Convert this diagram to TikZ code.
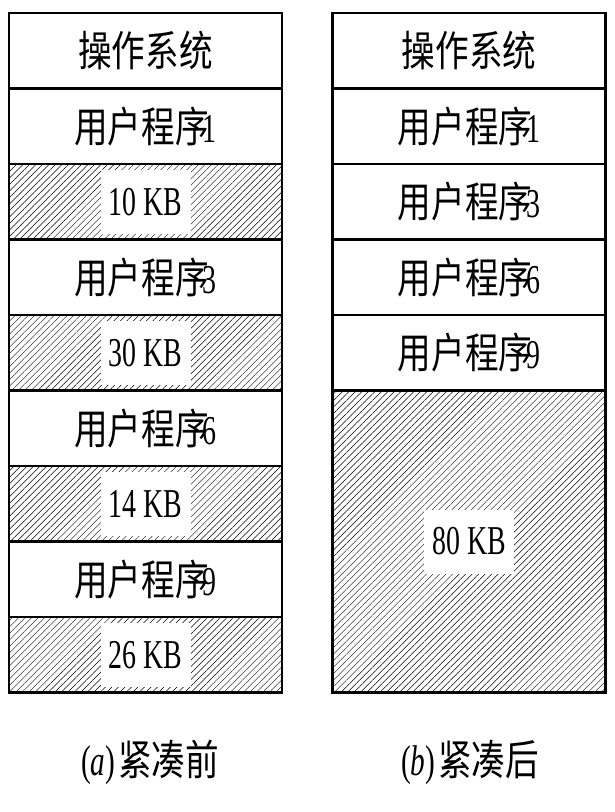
\documentclass[tikz,border=0pt]{standalone}
\usepackage{fontspec}
\setmainfont{Liberation Serif}[FakeStretch=0.68]
\newfontfamily\cjk{Noto Sans CJK SC}[FakeStretch=0.8]
\usepackage{tikz}
\usetikzlibrary{positioning,patterns.meta}
\tikzstyle{mem} = [draw, line width=2.6pt, outer sep=0pt, inner sep=0pt, minimum width=273pt, minimum height=75.5pt, font=\fontsize{42}{44}\selectfont\cjk]
\tikzstyle{free} = [mem, pattern={Lines[angle=45,distance=4.6pt,line width=0.45pt]}, pattern color=black]
\tikzstyle{kb} = [fill=white, inner sep=0pt, minimum width=90pt, minimum height=64pt, font=\fontsize{41}{43}\selectfont\rmfamily]
\tikzstyle{subcap} = [inner sep=0pt, font=\fontsize{43}{45}\selectfont]
\newcommand{\prog}[1]{用户程序\kern-6pt{\rmfamily\fontsize{41}{43}\selectfont #1}}

\begin{document}
\begin{tikzpicture}[x=1pt, y=1pt]
        \useasboundingbox (0,0) rectangle (615,-812);
        % (a) before compaction
        \node[mem] (osa) at (145.5,-50.75) {操作系统};
        \node[mem, below=0pt of osa] (pa1) {\prog{1}};
        \node[free, below=0pt of pa1] (fa1) {};
        \node[mem, below=0pt of fa1] (pa3) {\prog{3}};
        \node[free, below=0pt of pa3] (fa2) {};
        \node[mem, below=0pt of fa2] (pa6) {\prog{6}};
        \node[free, below=0pt of pa6] (fa3) {};
        \node[mem, below=0pt of fa3] (pa9) {\prog{9}};
        \node[free, below=0pt of pa9] (fa4) {};
        \node[kb] (kba1) at (fa1) {10 KB};
        \node[kb] (kba2) at (fa2) {30 KB};
        \node[kb] (kba3) at (fa3) {14 KB};
        \node[kb] (kba4) at (fa4) {26 KB};

        % (b) after compaction
        \node[mem] (osb) at (469,-50.75) {操作系统};
        \node[mem, below=0pt of osb] (pb1) {\prog{1}};
        \node[mem, below=0pt of pb1] (pb3) {\prog{3}};
        \node[mem, below=0pt of pb3] (pb6) {\prog{6}};
        \node[mem, below=0pt of pb6] (pb9) {\prog{9}};
        \node[free, below=0pt of pb9, minimum height=302pt] (fb) {};
        \node[kb] (kbb) at (fb) {80 KB};

        % captions
        \node[subcap] (capa) at (150,-762) {(\textit{a})\kern3pt{\cjk\fontsize{42}{44}\selectfont 紧凑前}};
        \node[subcap] (capb) at (470,-762) {(\textit{b})\kern3pt{\cjk\fontsize{42}{44}\selectfont 紧凑后}};
      \end{tikzpicture}
\end{document}
